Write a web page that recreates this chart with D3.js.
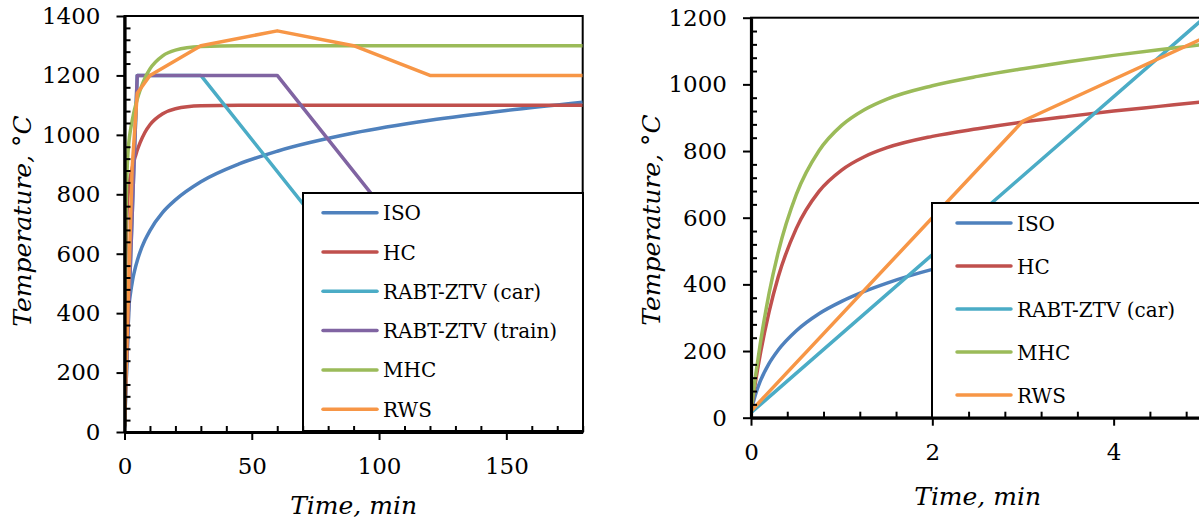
<!DOCTYPE html>
<html>
<head>
<meta charset="utf-8">
<script src="https://cdn.jsdelivr.net/npm/d3@7"></script>
<style>
  html, body { margin: 0; padding: 0; background: #fff; }
  svg { display: block; }
</style>
</head>
<body>
<svg id="chart" width="1199" height="521"></svg>
<script>
// Fire curves: temperature (°C) against time (min)
const timeMin = [0, 0.05, 0.1, 0.2, 0.3, 0.5, 0.75, 1, 1.25, 1.5, 2, 2.5, 3, 3.5, 4, 4.5, 5,
                 6, 8, 10, 15, 20, 30, 45, 60, 90, 120, 150, 180];
const isoTemp = [20, 70, 108, 163, 203, 261, 312, 349, 379, 404, 445, 476, 502, 525, 544, 561, 576,
                 603, 645, 678, 739, 781, 842, 902, 945, 1006, 1049, 1082, 1110];
const hcTemp  = [20, 109, 187, 318, 422, 568, 679, 743, 783, 810, 844, 867, 887, 904, 920, 934, 948,
                 971, 1008, 1034, 1071, 1088, 1098, 1100, 1100, 1100, 1100, 1100, 1100];
const mhcTemp = [20, 125, 218, 374, 496, 670, 801, 877, 924, 956, 996, 1024, 1047, 1068, 1087, 1104, 1120,
                 1147, 1191, 1222, 1266, 1285, 1297, 1300, 1300, 1300, 1300, 1300, 1300];

const rabtCarTime   = [0, 5, 30, 140];
const rabtCarTemp   = [15, 1200, 1200, 15];
const rabtTrainTime = [0, 5, 60, 170];
const rabtTrainTemp = [15, 1200, 1200, 15];
const rwsTime = [0, 3, 5, 10, 30, 60, 90, 120, 180];
const rwsTemp = [20, 890, 1140, 1200, 1300, 1350, 1300, 1200, 1200];

const seriesNames  = ["ISO", "HC", "RABT-ZTV (car)", "RABT-ZTV (train)", "MHC", "RWS"];
const seriesColors = ["#4F81BD", "#C0504D", "#4BACC6", "#8064A2", "#9BBB59", "#F79646"];

// Axis ticks
const leftXTicks  = [0, 50, 100, 150];
const leftYTicks  = [0, 200, 400, 600, 800, 1000, 1200, 1400];
const rightXTicks = [0, 2, 4];
const rightYTicks = [0, 200, 400, 600, 800, 1000, 1200];

const zip = (t, v) => t.map((d, i) => ({ t: d, v: v[i] }));
const series = [
  { name: seriesNames[0], color: seriesColors[0], pts: zip(timeMin, isoTemp), smooth: true },
  { name: seriesNames[1], color: seriesColors[1], pts: zip(timeMin, hcTemp), smooth: true },
  { name: seriesNames[2], color: seriesColors[2], pts: zip(rabtCarTime, rabtCarTemp), smooth: false },
  { name: seriesNames[3], color: seriesColors[3], pts: zip(rabtTrainTime, rabtTrainTemp), smooth: false },
  { name: seriesNames[4], color: seriesColors[4], pts: zip(timeMin, mhcTemp), smooth: true },
  { name: seriesNames[5], color: seriesColors[5], pts: zip(rwsTime, rwsTemp), smooth: false }
];

const FONT = "'DejaVu Serif', serif";
const fmt = d3.format("d");
const svg = d3.select("#chart");

function minorTicks(max, step, majorStep) {
  const out = [];
  for (let i = 1; i * step <= max + 1e-9; i++) {
    const v = +(i * step).toFixed(4);
    if (Math.abs(v / majorStep - Math.round(v / majorStep)) > 1e-6) out.push(v);
  }
  return out;
}

function panel(cfg) {
  const g = svg.append("g");
  const x = d3.scaleLinear().domain(cfg.xDomain).range([cfg.left, cfg.right]);
  const y = d3.scaleLinear().domain(cfg.yDomain).range([cfg.bottom, cfg.top]);
  const clipId = "clip-" + cfg.id;

  g.append("clipPath").attr("id", clipId)
    .append("rect")
    .attr("x", cfg.left).attr("y", cfg.top)
    .attr("width", cfg.right - cfg.left).attr("height", cfg.bottom - cfg.top);

  // plot frame (top and right edges)
  g.append("rect")
    .attr("x", cfg.left).attr("y", cfg.top)
    .attr("width", cfg.right - cfg.left).attr("height", cfg.bottom - cfg.top)
    .attr("fill", "none").attr("stroke", "#000").attr("stroke-width", 2);

  // curves
  const lines = g.append("g").attr("clip-path", `url(#${clipId})`);
  cfg.series.forEach(s => {
    const line = d3.line()
      .x(d => x(d.t)).y(d => y(d.v))
      .curve(s.smooth ? d3.curveMonotoneX : d3.curveLinear);
    lines.append("path")
      .attr("d", line(s.pts))
      .attr("fill", "none")
      .attr("stroke", s.color)
      .attr("stroke-width", 3.5)
      .attr("stroke-linejoin", "round");
  });

  // legend
  const lg = g.append("g");
  lg.append("rect")
    .attr("x", cfg.legend.x).attr("y", cfg.legend.y)
    .attr("width", cfg.legend.w).attr("height", cfg.legend.h)
    .attr("fill", "#fff").attr("stroke", "#000").attr("stroke-width", 2);
  const entries = cfg.series.filter(s => cfg.legend.names.includes(s.name));
  entries.forEach((s, i) => {
    const cy = cfg.legend.firstY + i * cfg.legend.step;
    lg.append("line")
      .attr("x1", cfg.legend.lineX).attr("x2", cfg.legend.lineX + 54)
      .attr("y1", cy).attr("y2", cy)
      .attr("stroke", s.color).attr("stroke-width", 3.5).attr("stroke-linecap", "round");
    lg.append("text")
      .attr("x", cfg.legend.lineX + 60).attr("y", cy + 7.5)
      .attr("font-family", FONT).attr("font-size", 20).attr("fill", "#000")
      .text(s.name);
  });

  // minor ticks (inside)
  g.append("g").attr("transform", `translate(${cfg.left},0)`)
    .call(d3.axisLeft(y).tickValues(cfg.yMinor).tickSize(-6).tickSizeOuter(0).tickFormat(""))
    .call(a => a.select(".domain").remove());
  g.append("g").attr("transform", `translate(0,${cfg.bottom})`)
    .call(d3.axisBottom(x).tickValues(cfg.xMinor).tickSize(-6).tickSizeOuter(0).tickFormat(""))
    .call(a => a.select(".domain").remove());

  // major axes
  const ya = g.append("g").attr("transform", `translate(${cfg.left},0)`)
    .call(d3.axisLeft(y).tickValues(cfg.yTicks).tickFormat(fmt)
      .tickSize(8).tickSizeOuter(0).tickPadding(16));
  const xa = g.append("g").attr("transform", `translate(0,${cfg.bottom})`)
    .call(d3.axisBottom(x).tickValues(cfg.xTicks).tickFormat(fmt)
      .tickSize(8).tickSizeOuter(0).tickPadding(18));

  [ya, xa].forEach(a => {
    a.attr("font-family", FONT).attr("font-size", 23);
    a.select(".domain").attr("stroke-width", 3.2).attr("stroke", "#000");
    a.selectAll(".tick text").attr("fill", "#000");
  });
  g.selectAll(".tick line").attr("stroke", "#000").attr("stroke-width", 2);

  // axis titles
  g.append("text")
    .attr("x", (cfg.left + cfg.right) / 2).attr("y", cfg.xTitleY)
    .attr("text-anchor", "middle")
    .attr("font-family", FONT).attr("font-style", "italic").attr("font-size", 25)
    .text("Time, min");
  g.append("text")
    .attr("transform", `translate(${cfg.yTitleX},${cfg.yTitleMid}) rotate(-90)`)
    .attr("text-anchor", "middle")
    .attr("font-family", FONT).attr("font-style", "italic").attr("font-size", 25)
    .text("Temperature, °C");
}

// Full-duration panel
panel({
  id: "full",
  left: 124.5, right: 582.7, top: 16, bottom: 432,
  xDomain: [0, 180], yDomain: [0, 1400],
  xTicks: leftXTicks, yTicks: leftYTicks,
  xMinor: minorTicks(180, 10, 50), yMinor: minorTicks(1400, 40, 200),
  xTitleY: 514, yTitleX: 31, yTitleMid: 221,
  series: series,
  legend: { x: 303, y: 193, w: 280, h: 238, lineX: 323, firstY: 212.7, step: 39.3, names: seriesNames }
});

// First five minutes
panel({
  id: "early",
  left: 751, right: 1204.3, top: 17.7, bottom: 417.7,
  xDomain: [0, 5], yDomain: [0, 1200],
  xTicks: rightXTicks, yTicks: rightYTicks,
  xMinor: minorTicks(5, 0.4, 2), yMinor: minorTicks(1200, 40, 200),
  xTitleY: 505, yTitleX: 660, yTitleMid: 220,
  series: series.filter(s => s.name !== "RABT-ZTV (train)"),
  legend: { x: 932, y: 203, w: 300, h: 215, lineX: 957, firstY: 223, step: 43,
            names: ["ISO", "HC", "RABT-ZTV (car)", "MHC", "RWS"] }
});
</script>
</body>
</html>
